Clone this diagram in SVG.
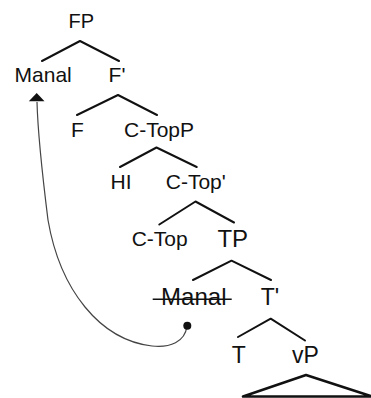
<svg xmlns="http://www.w3.org/2000/svg" width="371" height="398" viewBox="0 0 371 398">
<style>
text{font-family:"Liberation Sans",Arial,sans-serif;fill:#111;text-anchor:middle}
.s{font-size:21px}
.m{font-size:23px}
.b{font-size:24px}
.e{stroke:#111;stroke-width:2;fill:none;stroke-linecap:round;stroke-linejoin:round}
.mv{stroke:#444;stroke-width:1.2;fill:none}
</style>
<rect width="371" height="398" fill="#fff"/>
<g id="connectors">
<path class="e" d="M42,61 L80,41 L119,61"/>
<path class="e" d="M77,115 L118,95 L157,115"/>
<path class="e" d="M120,167 L156.5,147.5 L196.7,167"/>
<path class="e" d="M159.3,224.5 L195.5,201.5 L234,222.5"/>
<path class="e" d="M193,280 L231.5,260.7 L271,280"/>
<path class="e" d="M238,337 L270.7,318.7 L305,340.5"/>
<path class="e" d="M306,375 L243,396.5 L372,396.5 Z" style="stroke-width:2.5"/>
<path class="mv" d="M187,326 C185,342 170,348 152,346 C100,340 60,290 48,220 C43,180 38,140 37,102"/>
<polygon points="36.7,93 28.8,101.2 44.5,101.2" fill="#111"/>
<circle cx="187.3" cy="325.8" r="4" fill="#111"/>
</g>
<g id="FP"><text x="81.3" y="28.3" style="font-size:20px">FP</text></g>
<g id="Manal"><text class="s" x="43.2" y="82">Manal</text></g>
<g id="Fbar"><text class="s" x="117" y="82">F'</text></g>
<g id="F"><text class="s" x="77.5" y="136.7">F</text></g>
<g id="CTopP"><text class="s" x="159" y="136.7">C-TopP</text></g>
<g id="HI"><text class="s" x="121" y="189">HI</text></g>
<g id="CTopBar"><text class="s" x="195.8" y="189">C-Top'</text></g>
<g id="CTop"><text class="s" x="159.7" y="245.5">C-Top</text></g>
<g id="TP"><text class="b" x="232.8" y="246.5">TP</text></g>
<g id="ManalTrace"><text class="b" x="193.8" y="305">Manal</text><line x1="152.7" y1="299.3" x2="231.7" y2="299.3" stroke="#111" stroke-width="1.6"/></g>
<g id="Tbar"><text class="m" x="270" y="305">T'</text></g>
<g id="T"><text class="m" x="238.8" y="362.7">T</text></g>
<g id="vP"><text class="m" x="305.3" y="362.7">vP</text></g>
</svg>
